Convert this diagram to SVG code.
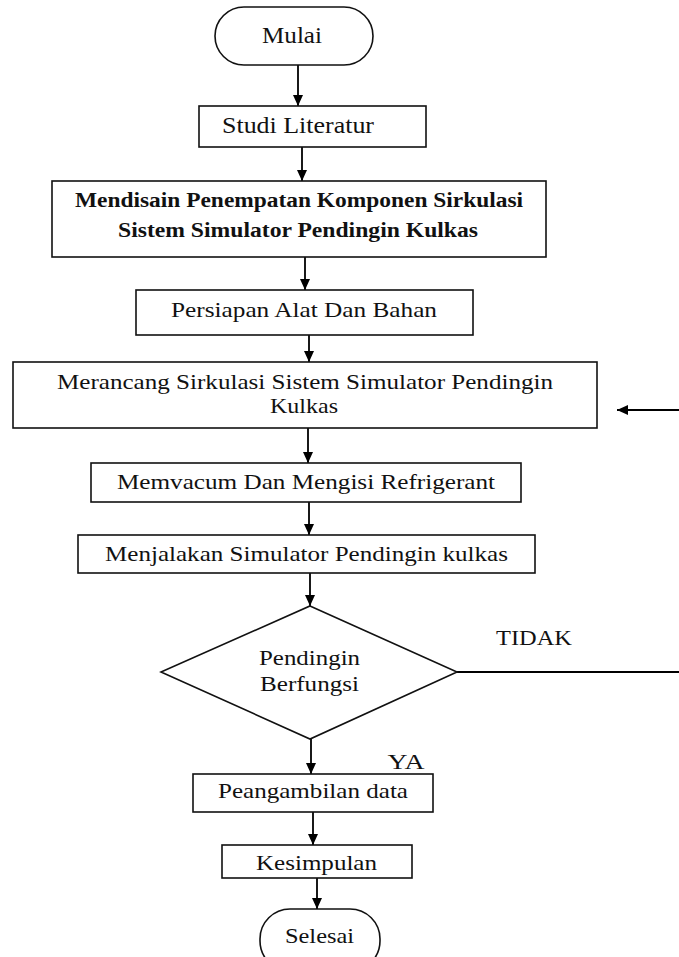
<svg xmlns="http://www.w3.org/2000/svg" width="679" height="957" viewBox="0 0 679 957">
<style>
.box{fill:#fff;stroke:#111;stroke-width:1.6}
.t{font-family:"Liberation Serif","Times New Roman",serif;fill:#111;text-anchor:middle}
.c{stroke:#000;stroke-width:1.8;fill:none}
.a{marker-end:url(#ah)}
</style>
<defs>
<marker id="ah" markerUnits="userSpaceOnUse" markerWidth="11" markerHeight="10" refX="11" refY="5" orient="auto">
<path d="M0,0 L11,5 L0,10 z" fill="#000"/>
</marker>
</defs>
<rect width="679" height="957" fill="#fff"/>
<g id="connectors">
<line class="c a" x1="298" y1="65" x2="298" y2="106"/>
<line class="c a" x1="302" y1="147" x2="302" y2="181"/>
<line class="c a" x1="305" y1="257" x2="305" y2="290"/>
<line class="c a" x1="309" y1="335" x2="309" y2="362"/>
<line class="c a" x1="308" y1="428" x2="308" y2="463"/>
<line class="c a" x1="309" y1="502" x2="309" y2="535"/>
<line class="c a" x1="310" y1="573" x2="310" y2="606"/>
<line class="c a" x1="311" y1="739" x2="311" y2="774"/>
<line class="c a" x1="313" y1="812" x2="313" y2="845"/>
<line class="c a" x1="317" y1="878" x2="317" y2="909"/>
<line class="c" x1="457" y1="672" x2="679" y2="672" style="stroke-width:2.2"/>
<line class="c a" x1="679" y1="410" x2="617" y2="410"/>
<text class="t" x="534" y="645" font-size="21" textLength="76" lengthAdjust="spacingAndGlyphs">TIDAK</text>
<text class="t" x="406" y="769" font-size="21" textLength="37" lengthAdjust="spacingAndGlyphs">YA</text>
</g>
<g id="mulai">
<rect class="box" x="215" y="7" width="158" height="58" rx="29"/>
<text class="t" x="292" y="43" font-size="23" textLength="60" lengthAdjust="spacingAndGlyphs">Mulai</text>
</g>
<g id="studi">
<rect class="box" x="199" y="106" width="227" height="41"/>
<text class="t" x="298" y="133" font-size="24" textLength="152" lengthAdjust="spacingAndGlyphs">Studi Literatur</text>
</g>
<g id="mendisain">
<rect class="box" x="52" y="181" width="494" height="76"/>
<text class="t" x="299" y="207" font-size="20" font-weight="bold" textLength="448" lengthAdjust="spacingAndGlyphs">Mendisain Penempatan Komponen Sirkulasi</text>
<text class="t" x="298" y="237" font-size="20" font-weight="bold" textLength="360" lengthAdjust="spacingAndGlyphs">Sistem Simulator Pendingin Kulkas</text>
</g>
<g id="persiapan">
<rect class="box" x="136" y="290" width="337" height="45"/>
<text class="t" x="304" y="317" font-size="21" textLength="266" lengthAdjust="spacingAndGlyphs">Persiapan Alat Dan Bahan</text>
</g>
<g id="merancang">
<rect class="box" x="13" y="362" width="584" height="66"/>
<text class="t" x="305" y="389" font-size="22" textLength="496" lengthAdjust="spacingAndGlyphs">Merancang Sirkulasi Sistem Simulator Pendingin</text>
<text class="t" x="304" y="413" font-size="22" textLength="68" lengthAdjust="spacingAndGlyphs">Kulkas</text>
</g>
<g id="memvacum">
<rect class="box" x="91" y="463" width="430" height="39"/>
<text class="t" x="306" y="489" font-size="22" textLength="378" lengthAdjust="spacingAndGlyphs">Memvacum Dan Mengisi Refrigerant</text>
</g>
<g id="menjalakan">
<rect class="box" x="78" y="535" width="457" height="38"/>
<text class="t" x="306.5" y="561" font-size="22" textLength="403" lengthAdjust="spacingAndGlyphs">Menjalakan Simulator Pendingin kulkas</text>
</g>
<g id="decision">
<polygon class="box" points="310,606 457,672 310,739 161,672"/>
<text class="t" x="309.5" y="665" font-size="21" textLength="101" lengthAdjust="spacingAndGlyphs">Pendingin</text>
<text class="t" x="309.5" y="691" font-size="21" textLength="99" lengthAdjust="spacingAndGlyphs">Berfungsi</text>
</g>
<g id="peangambilan">
<rect class="box" x="193" y="774" width="240" height="38"/>
<text class="t" x="313" y="798" font-size="21" textLength="190" lengthAdjust="spacingAndGlyphs">Peangambilan data</text>
</g>
<g id="kesimpulan">
<rect class="box" x="222" y="845" width="190" height="33"/>
<text class="t" x="316.5" y="870" font-size="21" textLength="121" lengthAdjust="spacingAndGlyphs">Kesimpulan</text>
</g>
<g id="selesai">
<rect class="box" x="260" y="909" width="120" height="62" rx="30"/>
<text class="t" x="319.5" y="943" font-size="21" textLength="69" lengthAdjust="spacingAndGlyphs">Selesai</text>
</g>
</svg>
